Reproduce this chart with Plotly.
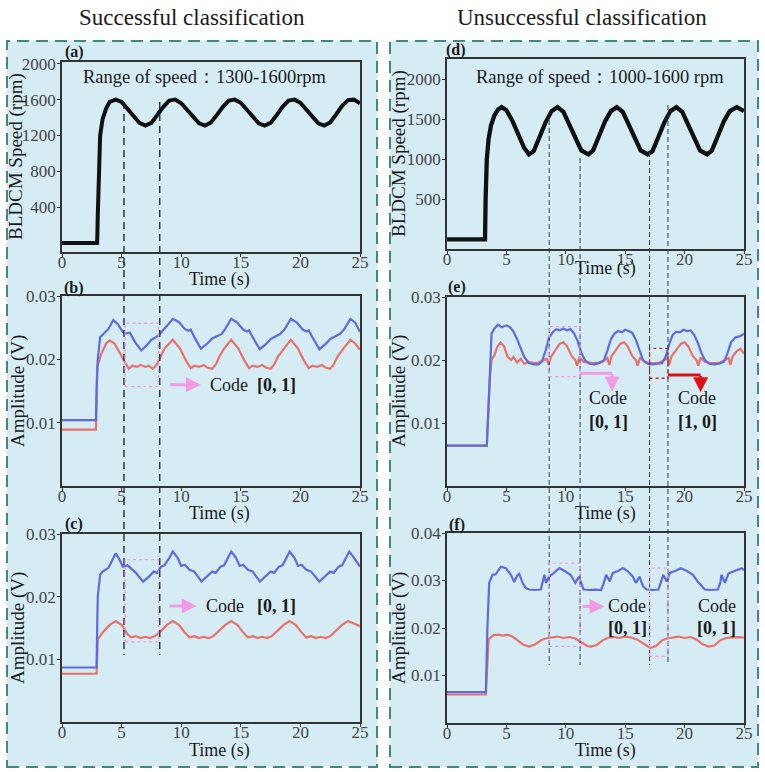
import plotly.graph_objects as go

# ---------------------------------------------------------------- data
# (a) BLDCM speed, successful case (rpm)
t_a = [0, 2.95, 3.0, 3.08, 3.2, 3.4, 3.7, 4.0, 4.5, 5.0, 5.5, 6.0, 6.5, 7.0, 7.5,
       8.0, 8.5, 9.0, 9.5, 10.0, 10.5, 11.0, 11.5, 12.0, 12.5, 13.0, 13.5, 14.0,
       14.5, 15.0, 15.5, 16.0, 16.5, 17.0, 17.5, 18.0, 18.5, 19.0, 19.5, 20.0,
       20.5, 21.0, 21.5, 22.0, 22.5, 23.0, 23.5, 24.0, 24.5, 25.0]
speed_a = [0, 0, 300, 900, 1200, 1380, 1500, 1575, 1600, 1575, 1500, 1410, 1340,
           1310, 1340, 1430, 1520, 1590, 1600, 1560, 1480, 1400, 1335, 1310, 1345,
           1430, 1520, 1590, 1600, 1565, 1490, 1405, 1335, 1310, 1340, 1425, 1520,
           1590, 1600, 1565, 1490, 1405, 1335, 1310, 1345, 1435, 1530, 1595, 1600,
           1560]

# (d) BLDCM speed, unsuccessful case (rpm)
t_d = [0, 3.2, 3.25, 3.35, 3.5, 3.7, 4.0, 4.3, 4.6, 5.0, 5.5, 6.0, 6.5, 6.9, 7.3,
       7.8, 8.3, 8.8, 9.3, 9.8, 10.3, 10.8, 11.3, 11.9, 12.3, 12.8, 13.3, 13.8,
       14.3, 14.8, 15.3, 15.8, 16.3, 16.9, 17.3, 17.8, 18.3, 18.8, 19.3, 19.8,
       20.3, 20.8, 21.3, 21.9, 22.3, 22.8, 23.3, 23.8, 24.4, 25.0]
speed_d = [0, 0, 500, 1000, 1250, 1420, 1550, 1620, 1650, 1610, 1480, 1300, 1140,
           1060, 1100, 1280, 1460, 1600, 1650, 1590, 1440, 1260, 1110, 1060, 1110,
           1290, 1470, 1600, 1650, 1590, 1440, 1260, 1110, 1060, 1100, 1280, 1460,
           1600, 1650, 1590, 1440, 1260, 1110, 1060, 1110, 1290, 1470, 1600, 1650,
           1600]

# (b) amplitude (V)
t_b_blue = [0, 2.85, 2.9, 3.0, 3.2, 3.5, 3.9, 4.3, 4.7, 5.1, 5.4, 5.7, 6.1, 6.65,
            7.1, 7.5, 7.9, 8.2, 8.5, 8.9, 9.3, 9.8, 10.3, 10.6, 10.8, 11.1, 11.65,
            12.2, 12.6, 13.0, 13.4, 13.7, 14.2, 14.7, 15.2, 15.5, 15.7, 16.0, 16.6,
            17.1, 17.5, 17.9, 18.3, 18.7, 19.2, 19.7, 20.2, 20.5, 20.7, 21.0, 21.6,
            22.1, 22.5, 22.9, 23.3, 23.7, 24.2, 24.6, 25.0]
amp_b_blue = [0.0104, 0.0104, 0.0150, 0.0200, 0.0235, 0.0240, 0.0248, 0.0262,
              0.0255, 0.0243, 0.0241, 0.0242, 0.0228, 0.0214, 0.0222, 0.0231,
              0.0235, 0.0240, 0.0246, 0.0255, 0.0264, 0.0259, 0.0248, 0.0245,
              0.0247, 0.0235, 0.0217, 0.0225, 0.0233, 0.0236, 0.0240, 0.0248,
              0.0264, 0.0258, 0.0247, 0.0244, 0.0246, 0.0235, 0.0216, 0.0224,
              0.0232, 0.0236, 0.0240, 0.0248, 0.0264, 0.0258, 0.0247, 0.0244,
              0.0246, 0.0235, 0.0216, 0.0224, 0.0232, 0.0236, 0.0240, 0.0248,
              0.0264, 0.0258, 0.0243]
t_b_red = [0, 2.85, 2.95, 3.3, 3.7, 4.0, 4.4, 4.9, 5.3, 5.6, 5.9, 6.3, 6.6, 7.0,
           7.3, 7.6, 7.9, 8.2, 8.6, 9.3, 9.9, 10.4, 10.8, 11.1, 11.5, 11.9, 12.2,
           12.6, 12.9, 13.2, 13.6, 14.2, 14.8, 15.3, 15.7, 16.0, 16.4, 16.8, 17.1,
           17.5, 17.8, 18.1, 18.6, 19.2, 19.8, 20.3, 20.7, 21.0, 21.4, 21.8, 22.1,
           22.5, 22.8, 23.1, 23.6, 24.2, 24.6, 25.0]
amp_b_red = [0.0089, 0.0089, 0.0188, 0.0209, 0.0225, 0.0230, 0.0225, 0.0209,
             0.0196, 0.0185, 0.0190, 0.0188, 0.0191, 0.0188, 0.0190, 0.0185,
             0.0190, 0.0201, 0.0217, 0.0231, 0.0217, 0.0198, 0.0186, 0.0190,
             0.0188, 0.0191, 0.0187, 0.0185, 0.0192, 0.0204, 0.0217, 0.0231,
             0.0217, 0.0198, 0.0186, 0.0190, 0.0188, 0.0191, 0.0187, 0.0185,
             0.0192, 0.0204, 0.0217, 0.0231, 0.0217, 0.0198, 0.0186, 0.0190,
             0.0188, 0.0191, 0.0187, 0.0185, 0.0192, 0.0204, 0.0217, 0.0231,
             0.0225, 0.0215]

# (c) amplitude (V)
t_c_blue = [0, 2.9, 2.95, 3.0, 3.2, 3.4, 3.9, 4.5, 4.8, 5.1, 5.5, 5.8, 6.2, 6.8,
            7.3, 7.7, 8.0, 8.3, 8.6, 9.0, 9.3, 9.7, 10.0, 10.3, 10.7, 11.1, 11.7,
            12.2, 12.6, 12.9, 13.3, 13.6, 13.9, 14.2, 14.6, 14.9, 15.2, 15.6,
            16.0, 16.6, 17.1, 17.5, 17.8, 18.2, 18.5, 18.8, 19.1, 19.5, 19.8, 20.1,
            20.5, 20.9, 21.6, 22.1, 22.5, 22.8, 23.2, 23.5, 23.8, 24.1, 24.5, 25.0]
amp_c_blue = [0.0087, 0.0087, 0.0150, 0.0200, 0.0235, 0.0240, 0.0246, 0.0269,
              0.0260, 0.0248, 0.0250, 0.0245, 0.0238, 0.0224, 0.0232, 0.0240,
              0.0238, 0.0248, 0.0250, 0.0262, 0.0272, 0.0262, 0.0249, 0.0251,
              0.0243, 0.0240, 0.0224, 0.0233, 0.0240, 0.0238, 0.0248, 0.0250,
              0.0262, 0.0272, 0.0262, 0.0249, 0.0251, 0.0243, 0.0240, 0.0224,
              0.0233, 0.0240, 0.0238, 0.0248, 0.0250, 0.0262, 0.0272, 0.0262,
              0.0249, 0.0251, 0.0243, 0.0240, 0.0224, 0.0233, 0.0240, 0.0238,
              0.0248, 0.0250, 0.0262, 0.0272, 0.0262, 0.0248]
t_c_red = [0, 2.9, 3.0, 3.5, 4.0, 4.5, 5.0, 5.5, 5.8, 6.2, 6.6, 7.0, 7.4, 7.8,
           8.3, 8.8, 9.3, 9.8, 10.3, 10.7, 11.1, 11.5, 11.9, 12.3, 12.7, 13.2,
           13.7, 14.2, 14.7, 15.2, 15.6, 16.0, 16.4, 16.8, 17.2, 17.6, 18.1, 18.6,
           19.1, 19.6, 20.1, 20.5, 20.9, 21.3, 21.7, 22.1, 22.5, 23.0, 23.5, 24.0,
           24.5, 25.0]
amp_c_red = [0.0077, 0.0077, 0.0132, 0.0145, 0.0155, 0.0161, 0.0155, 0.0140,
             0.0135, 0.0137, 0.0134, 0.0136, 0.0134, 0.0137, 0.0145, 0.0155,
             0.0161, 0.0155, 0.0143, 0.0135, 0.0137, 0.0134, 0.0136, 0.0134,
             0.0137, 0.0146, 0.0155, 0.0161, 0.0155, 0.0143, 0.0135, 0.0137,
             0.0134, 0.0136, 0.0134, 0.0137, 0.0146, 0.0155, 0.0161, 0.0155,
             0.0143, 0.0135, 0.0137, 0.0134, 0.0136, 0.0134, 0.0137, 0.0146,
             0.0155, 0.0161, 0.0157, 0.0153]

# (e) amplitude (V)
t_e_blue = [0, 3.3, 3.35, 3.55, 3.75, 4.0, 4.3, 4.6, 5.0, 5.3, 5.6, 5.9, 6.2, 6.5,
            6.9, 7.3, 7.7, 8.0, 8.3, 8.6, 8.9, 9.2, 9.5, 9.8, 10.1, 10.4, 10.7,
            11.0, 11.3, 11.6, 12.0, 12.4, 12.8, 13.2, 13.5, 13.8, 14.1, 14.4, 14.7,
            15.0, 15.3, 15.6, 15.9, 16.2, 16.5, 16.9, 17.3, 17.7, 18.1, 18.4, 18.7,
            19.0, 19.3, 19.6, 19.9, 20.2, 20.5, 20.8, 21.1, 21.4, 21.7, 22.1, 22.5,
            22.9, 23.3, 23.6, 23.9, 24.3, 24.7, 25.0]
amp_e_blue = [0.0064, 0.0064, 0.0064, 0.0150, 0.0242, 0.0250, 0.0256, 0.0252,
              0.0255, 0.0252, 0.0245, 0.0233, 0.0218, 0.0205, 0.0195, 0.0193,
              0.0193, 0.0198, 0.0215, 0.0236, 0.0244, 0.0249, 0.0247, 0.0250,
              0.0247, 0.0249, 0.0242, 0.0230, 0.0212, 0.0200, 0.0194, 0.0193,
              0.0195, 0.0199, 0.0215, 0.0233, 0.0242, 0.0246, 0.0244, 0.0248,
              0.0246, 0.0243, 0.0232, 0.0215, 0.0200, 0.0194, 0.0193, 0.0194,
              0.0195, 0.0205, 0.0225, 0.0240, 0.0245, 0.0244, 0.0248, 0.0246,
              0.0247, 0.0240, 0.0228, 0.0212, 0.0200, 0.0194, 0.0193, 0.0194,
              0.0197, 0.0210, 0.0228, 0.0236, 0.0238, 0.0242]
t_e_red = [0, 3.35, 3.6, 3.75, 4.0, 4.2, 4.5, 4.8, 5.1, 5.4, 5.6, 5.9, 6.2, 6.5,
           6.9, 7.3, 7.7, 8.1, 8.4, 8.55, 8.75, 9.1, 9.5, 9.8, 10.1, 10.5, 10.8,
           10.95, 11.15, 11.5, 11.9, 12.3, 12.8, 13.2, 13.5, 13.65, 13.85, 14.2,
           14.6, 14.9, 15.2, 15.6, 15.9, 16.05, 16.25, 16.6, 17.0, 17.5, 17.9,
           18.3, 18.55, 18.7, 18.9, 19.3, 19.7, 20.0, 20.3, 20.7, 21.0, 21.15,
           21.35, 21.7, 22.1, 22.6, 23.0, 23.4, 23.7, 23.85, 24.05, 24.4, 24.7,
           25.0]
amp_e_red = [0.0064, 0.0064, 0.0170, 0.0200, 0.0208, 0.0220, 0.0228, 0.0222,
             0.0205, 0.0200, 0.0205, 0.0196, 0.0202, 0.0194, 0.0197, 0.0195,
             0.0196, 0.0199, 0.0202, 0.0192, 0.0205, 0.0215, 0.0226, 0.0228,
             0.0222, 0.0206, 0.0200, 0.0191, 0.0205, 0.0197, 0.0196, 0.0195,
             0.0196, 0.0199, 0.0203, 0.0192, 0.0206, 0.0216, 0.0226, 0.0228,
             0.0222, 0.0206, 0.0200, 0.0191, 0.0204, 0.0197, 0.0195, 0.0195,
             0.0196, 0.0200, 0.0203, 0.0192, 0.0206, 0.0216, 0.0226, 0.0228,
             0.0222, 0.0206, 0.0200, 0.0191, 0.0204, 0.0197, 0.0195, 0.0195,
             0.0196, 0.0200, 0.0203, 0.0192, 0.0206, 0.0214, 0.0218, 0.0210]

# (f) amplitude (V)
t_f_blue = [0, 3.27, 3.4, 3.55, 3.83, 4.1, 4.53, 4.96, 5.38, 5.66, 5.9, 6.08,
            6.36, 6.6, 6.9, 7.4, 7.9, 8.05, 8.2, 8.33, 8.6, 9.0, 9.46, 9.9, 10.4,
            10.8, 11.1, 11.5, 12.0, 12.5, 12.98, 13.2, 13.4, 13.7, 13.96, 14.4,
            14.8, 15.2, 15.65, 15.9, 16.2, 16.5, 16.8, 17.3, 17.8, 18.0, 18.2,
            18.5, 18.75, 19.2, 19.7, 20.2, 20.7, 21.1, 21.4, 21.7, 22.2, 22.8,
            23.0, 23.1, 23.4, 23.7, 24.2, 24.8, 25.0]
amp_f_blue = [0.0065, 0.0065, 0.0200, 0.0295, 0.0312, 0.0313, 0.0329, 0.0326,
              0.0312, 0.0297, 0.0310, 0.0314, 0.0295, 0.0285, 0.0281, 0.0280,
              0.0281, 0.0295, 0.0312, 0.0295, 0.0308, 0.0316, 0.0326, 0.0320,
              0.0312, 0.0295, 0.0308, 0.0281, 0.0280, 0.0281, 0.0280, 0.0295,
              0.0312, 0.0298, 0.0316, 0.0320, 0.0326, 0.0320, 0.0308, 0.0295,
              0.0308, 0.0288, 0.0281, 0.0280, 0.0281, 0.0296, 0.0312, 0.0298,
              0.0316, 0.0320, 0.0326, 0.0320, 0.0312, 0.0298, 0.0290, 0.0281,
              0.0280, 0.0281, 0.0295, 0.0312, 0.0295, 0.0315, 0.0320, 0.0326,
              0.0322]
t_f_red = [0, 3.27, 3.5, 3.9, 4.3, 4.7, 5.1, 5.5, 5.9, 6.4, 6.9, 7.4, 7.9, 8.3,
           8.8, 9.3, 9.8, 10.3, 10.8, 11.3, 11.8, 12.1, 12.6, 13.1, 13.5, 14.0,
           14.5, 15.0, 15.5, 16.0, 16.5, 17.1, 17.6, 18.1, 18.5, 19.0, 19.5, 20.0,
           20.5, 21.0, 21.5, 22.0, 22.5, 23.0, 23.5, 24.0, 24.5, 25.0]
amp_f_red = [0.0060, 0.0060, 0.0176, 0.0185, 0.0186, 0.0184, 0.0186, 0.0182,
             0.0175, 0.0165, 0.0161, 0.0165, 0.0174, 0.0178, 0.0180, 0.0182,
             0.0179, 0.0181, 0.0178, 0.0170, 0.0162, 0.0161, 0.0164, 0.0174,
             0.0179, 0.0181, 0.0179, 0.0182, 0.0180, 0.0176, 0.0168, 0.0158,
             0.0162, 0.0174, 0.0178, 0.0180, 0.0182, 0.0179, 0.0181, 0.0176,
             0.0166, 0.0161, 0.0163, 0.0174, 0.0179, 0.0180, 0.0181, 0.0180]

x_ticks = [0, 5, 10, 15, 20, 25]

# ---------------------------------------------------------------- style
W, H = 765, 772
SERIF = "Liberation Serif"
BLUE = "#5d6be0"
RED = "#ea706b"
PINK = "#f19be3"
DARKRED = "#e01010"
PLOT_BG = "#c4e1ed"
BOX_BG = "#d6ecf4"
BOX_LINE = "#44877f"
FRAME = "#333333"


def px(x):
    return x / W


def py(y):
    return 1 - y / H


LEFT = [px(62), px(360)]
RIGHT = [px(447), px(744)]
ROWS = {
    "a": [py(252), py(62)], "b": [py(486), py(296)], "c": [py(722), py(534)],
    "d": [py(249), py(59)], "e": [py(486), py(297)], "f": [py(723), py(533)],
}

fig = go.Figure()


def line(x, y, color, width, n):
    fig.add_trace(go.Scatter(
        x=x, y=y, mode="lines", line=dict(color=color, width=width),
        xaxis="x" if n == 1 else f"x{n}", yaxis="y" if n == 1 else f"y{n}",
        showlegend=False, hoverinfo="skip"))


line(t_a, speed_a, "#111111", 4.0, 1)
line(t_b_red, amp_b_red, RED, 2.2, 2)
line(t_b_blue, amp_b_blue, BLUE, 2.2, 2)
line(t_c_red, amp_c_red, RED, 2.2, 3)
line(t_c_blue, amp_c_blue, BLUE, 2.2, 3)
line(t_d, speed_d, "#111111", 4.3, 4)
line(t_e_red, amp_e_red, RED, 2.2, 5)
line(t_e_blue, amp_e_blue, BLUE, 2.2, 5)
line(t_f_red, amp_f_red, RED, 2.2, 6)
line(t_f_blue, amp_f_blue, BLUE, 2.2, 6)

axis_style = dict(
    showline=True, mirror=True, linecolor=FRAME, linewidth=1.5,
    ticks="outside", ticklen=3, tickcolor=FRAME, showgrid=False,
    zeroline=False, automargin=False,
    tickfont=dict(family=SERIF, size=17, color="#444444"),
)

panels = [
    ("a", LEFT, [-100, 2020], [400, 800, 1200, 1600, 2000], None),
    ("b", LEFT, [0, 0.03], [0.01, 0.02, 0.03], ".2f"),
    ("c", LEFT, [0, 0.03], [0.01, 0.02, 0.03], ".2f"),
    ("d", RIGHT, [-120, 2250], [500, 1000, 1500, 2000], None),
    ("e", RIGHT, [0, 0.03], [0.01, 0.02, 0.03], ".2f"),
    ("f", RIGHT, [0, 0.04], [0.01, 0.02, 0.03, 0.04], ".2f"),
]

layout_axes = {}
shapes = []
for i, (key, xdom, yrange, yticks, yfmt) in enumerate(panels, start=1):
    sx = "" if i == 1 else str(i)
    layout_axes[f"xaxis{sx}"] = dict(
        axis_style, domain=xdom, anchor=f"y{sx}", range=[0, 25],
        tickvals=x_ticks, ticklabelstandoff=-9)
    yax = dict(axis_style, domain=ROWS[key], anchor=f"x{sx}", range=yrange,
               tickvals=yticks, ticklabelstandoff=-2)
    if yfmt:
        yax["tickformat"] = yfmt
    layout_axes[f"yaxis{sx}"] = yax
    # plot-area background
    shapes.append(dict(type="rect", xref=f"x{sx} domain", yref=f"y{sx} domain",
                       x0=0, x1=1, y0=0, y1=1, fillcolor=PLOT_BG,
                       line=dict(width=0), layer="below"))

# outer dashed frames
for x0, x1 in [(7, 377), (390, 758)]:
    shapes.append(dict(type="rect", xref="paper", yref="paper",
                       x0=px(x0), x1=px(x1), y0=py(767), y1=py(41),
                       fillcolor=BOX_BG, layer="below",
                       line=dict(color=BOX_LINE, width=2, dash="12px,7px")))

# guide lines through the left column
for t, top in [(5.2, 102), (8.2, 102)]:
    shapes.append(dict(type="line", xref="x", yref="paper", x0=t, x1=t,
                       y0=py(top), y1=py(655),
                       line=dict(color="#1f2d3a", width=1.4, dash="7px,5px")))
# guide lines through the right column
for t, top in [(8.6, 120), (11.2, 158), (17.05, 152), (18.6, 105)]:
    shapes.append(dict(type="line", xref="x4", yref="paper", x0=t, x1=t,
                       y0=py(top), y1=py(665),
                       line=dict(color="#2e3e4e", width=1, dash="5px,3px")))

# dotted selection boxes
boxes = [
    ("x2", "y2", 5.3, 8.1, 0.0157, 0.0257, PINK),
    ("x3", "y3", 5.3, 8.1, 0.0128, 0.0259, PINK),
    ("x5", "y5", 8.6, 11.2, 0.01735, 0.0253, PINK),
    ("x5", "y5", 17.05, 18.6, 0.0171, 0.02185, "#b03030"),
    ("x6", "y6", 8.6, 11.2, 0.01615, 0.03365, PINK),
    ("x6", "y6", 17.05, 18.6, 0.01405, 0.0326, PINK),
]
for xr, yr, x0, x1, y0, y1, col in boxes:
    shapes.append(dict(type="rect", xref=xr, yref=yr, x0=x0, x1=x1, y0=y0,
                       y1=y1, line=dict(color=col, width=1.3, dash="dot")))

# elbow connectors in (e)
shapes.append(dict(type="line", xref="x5", yref="y5", x0=11.2, x1=13.9,
                   y0=0.0179, y1=0.0179, line=dict(color=PINK, width=3)))
shapes.append(dict(type="line", xref="x5", yref="y5", x0=18.6, x1=21.35,
                   y0=0.01762, y1=0.01762, line=dict(color=DARKRED, width=3)))

annotations = []


def arrow(xr, yr, x0, y0, x1, y1, col):
    annotations.append(dict(
        xref=xr, yref=yr, axref=xr, ayref=yr, x=x1, y=y1, ax=x0, ay=y0,
        text="", showarrow=True, arrowhead=2, arrowsize=1, arrowwidth=3,
        arrowcolor=col))


def text(xr, yr, x, y, s, size=18, bold=False, **kw):
    annotations.append(dict(
        xref=xr, yref=yr, x=x, y=y, text=f"<b>{s}</b>" if bold else s,
        showarrow=False, xanchor="center", yanchor="middle",
        font=dict(family=SERIF, size=size, color="#1a1a1a"), **kw))


arrow("x2", "y2", 8.95, 0.016, 11.65, 0.016, PINK)
text("x2", "y2", 13.98, 0.016, "Code")
text("x2", "y2", 18.0, 0.016, "[0, 1]", bold=True)

arrow("x3", "y3", 8.9, 0.0185, 11.3, 0.0185, PINK)
text("x3", "y3", 13.7, 0.0185, "Code")
text("x3", "y3", 18.0, 0.0185, "[0, 1]", bold=True)

arrow("x5", "y5", 13.9, 0.0180, 13.9, 0.0150, PINK)
arrow("x5", "y5", 21.35, 0.0177, 21.35, 0.0149, DARKRED)
text("x5", "y5", 13.57, 0.0140, "Code")
text("x5", "y5", 13.57, 0.0102, "[0, 1]", bold=True)
text("x5", "y5", 21.08, 0.0140, "Code")
text("x5", "y5", 21.08, 0.0102, "[1, 0]", bold=True)

arrow("x6", "y6", 11.3, 0.02454, 13.26, 0.02454, PINK)
text("x6", "y6", 15.16, 0.0247, "Code")
text("x6", "y6", 15.16, 0.0201, "[0, 1]", bold=True)
text("x6", "y6", 22.7, 0.0247, "Code")
text("x6", "y6", 22.7, 0.0201, "[0, 1]", bold=True)

# speed range captions
text("paper", "paper", px(205), py(77), "Range of speed：1300-1600rpm",
     size=18.5)
text("paper", "paper", px(600), py(77), "Range of speed：1000-1600 rpm",
     size=18.5)

# column headings
text("paper", "paper", px(192), py(18), "Successful classification", size=23)
text("paper", "paper", px(582), py(18), "Unsuccessful classification",
     size=23)

# panel letters
for lab, x, y in [("(a)", 74, 52), ("(b)", 74, 288), ("(c)", 74, 524),
                  ("(d)", 456, 50), ("(e)", 457, 287), ("(f)", 457, 525)]:
    text("paper", "paper", px(x), py(y), lab, size=16, bold=True)

# axis titles
for x, y in [(220, 280), (220, 513), (220, 750),
             (605, 268), (605, 513), (605, 750)]:
    text("paper", "paper", px(x), py(y), "Time (s)", size=18)
for x, y, s in [(16, 157, "BLDCM Speed (rpm)"), (18, 391, "Amplitude (V)"),
                (18, 628, "Amplitude (V)"), (399, 154, "BLDCM Speed (rpm)"),
                (399, 391, "Amplitude (V)"), (399, 628, "Amplitude (V)")]:
    text("paper", "paper", px(x), py(y), s, size=19, textangle=-90)

fig.update_layout(
    width=W, height=H, autosize=False,
    margin=dict(l=0, r=0, t=0, b=0, pad=0),
    paper_bgcolor="white", plot_bgcolor="rgba(0,0,0,0)",
    font=dict(family=SERIF, color="#222222"),
    shapes=shapes, annotations=annotations,
    **layout_axes,
)

fig.write_html("out.html", config={"displayModeBar": False},
               post_script="document.body.style.margin='0';")
